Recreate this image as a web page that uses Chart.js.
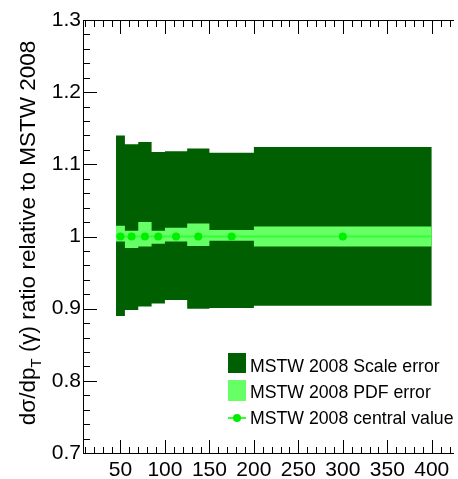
<!DOCTYPE html>
<html>
<head>
<meta charset="utf-8">
<script src="https://cdn.jsdelivr.net/npm/chart.js@4.4.1/dist/chart.umd.min.js"></script>
<style>
  html, body { margin: 0; padding: 0; background: #ffffff; overflow: hidden; }
  #wrap { width: 458px; height: 479px; position: relative; }
</style>
</head>
<body>
<div id="wrap"><canvas id="c" width="458" height="479"></canvas></div>
<script>
// pT bin edges (GeV) and per-bin ratios to the MSTW 2008 central prediction
const binEdges     = [45, 55, 70, 85, 100, 125, 150, 200, 400];
const centralValue = [1, 1, 1, 1, 1, 1, 1, 1];
const scaleErrUp   = [1.140, 1.128, 1.131, 1.117, 1.118, 1.122, 1.116, 1.124];
const scaleErrDown = [0.890, 0.898, 0.903, 0.907, 0.912, 0.900, 0.901, 0.904];
const pdfErrUp     = [1.015, 1.008, 1.020, 1.008, 1.012, 1.018, 1.009, 1.014];
const pdfErrDown   = [0.993, 0.984, 0.986, 0.990, 0.993, 0.987, 0.994, 0.986];

const xTickValues = [50, 100, 150, 200, 250, 300, 350, 400];
const xTickLabels = ['50', '100', '150', '200', '250', '300', '350', '400'];
const yTickValues = [0.7, 0.8, 0.9, 1.0, 1.1, 1.2, 1.3];
const yTickLabels = ['0.7', '0.8', '0.9', '1', '1.1', '1.2', '1.3'];

const seriesLabels = {
  scale: 'MSTW 2008 Scale error',
  pdf: 'MSTW 2008 PDF error',
  central: 'MSTW 2008 central value'
};

const FONT = "'Liberation Sans', Arial, Helvetica, sans-serif";
const DARK = '#005f00';
const LIGHT = '#66ff66';
const CENTRAL_LINE = '#33ff33';
const CENTRAL_DOT = '#00ee00';

// histogram-style step points: value i holds from edge i to edge i+1
function stepPoints(values) {
  return binEdges.map((e, i) => ({ x: e, y: values[Math.min(i, values.length - 1)] }));
}
function centerPoints(values) {
  return values.map((v, i) => ({ x: (binEdges[i] + binEdges[i + 1]) / 2, y: v }));
}

function bandStyle(color, fill) {
  return {
    stepped: true,
    fill: fill,
    backgroundColor: color,
    borderColor: 'rgba(0,0,0,0)',
    borderWidth: 0,
    pointRadius: 0,
    pointHoverRadius: 0
  };
}

// frame, inward tick marks, rotated axis title and the legend box
const decorations = {
  id: 'decorations',
  afterDraw(chart) {
    const ctx = chart.ctx;
    const a = chart.chartArea;
    const xs = chart.scales.x, ys = chart.scales.y;
    ctx.save();
    ctx.strokeStyle = '#000';
    ctx.lineWidth = 1;
    ctx.beginPath();
    ctx.moveTo(a.left - 0.5, a.top + 0.5); ctx.lineTo(a.right, a.top + 0.5);
    ctx.moveTo(a.left - 0.5, a.top); ctx.lineTo(a.left - 0.5, a.bottom + 1);
    ctx.moveTo(a.left - 0.5, a.bottom + 0.5); ctx.lineTo(a.right, a.bottom + 0.5);
    // y ticks: major every 0.1, minor every 0.02
    for (let k = 0; k <= 30; k++) {
      const v = 0.7 + k * 0.02;
      const py = Math.round(ys.getPixelForValue(v)) + 0.5;
      const len = (k % 5 === 0) ? 13 : 6;
      ctx.moveTo(a.left, py); ctx.lineTo(a.left + len, py);
    }
    // x ticks: major every 50, minor every 10, bottom and top
    for (let v = 10; v <= xs.max; v += 10) {
      if (v < xs.min) continue;
      const px = Math.round(xs.getPixelForValue(v)) + 0.5;
      const len = (v % 50 === 0) ? 13 : 6;
      ctx.moveTo(px, a.bottom); ctx.lineTo(px, a.bottom - len);
      ctx.moveTo(px, a.top + 1); ctx.lineTo(px, a.top + 1 + len);
    }
    ctx.stroke();

    // y-axis title with subscript
    ctx.fillStyle = '#000';
    ctx.textBaseline = 'alphabetic';
    ctx.textAlign = 'left';
    const big = '22.5px ' + FONT, small = '15px ' + FONT;
    const p1 = 'd\u03c3/dp', p2 = 'T', p3 = ' (\u03b3) ratio relative to MSTW 2008';
    ctx.font = big; const w1 = ctx.measureText(p1).width, w3 = ctx.measureText(p3).width;
    ctx.font = small; const w2 = ctx.measureText(p2).width;
    const total = w1 + w2 + w3;
    ctx.translate(35, 233);
    ctx.rotate(-Math.PI / 2);
    let x0 = -total / 2;
    ctx.font = big; ctx.fillText(p1, x0, 0); x0 += w1;
    ctx.font = small; ctx.fillText(p2, x0, 6); x0 += w2;
    ctx.font = big; ctx.fillText(p3, x0, 0);
    ctx.restore();

    // legend
    ctx.save();
    const lx = 228, bw = 18;
    ctx.fillStyle = DARK; ctx.fillRect(lx, 353, bw, 20);
    ctx.fillStyle = LIGHT; ctx.fillRect(lx, 380, bw, 21);
    ctx.strokeStyle = CENTRAL_LINE; ctx.lineWidth = 2;
    ctx.beginPath(); ctx.moveTo(lx, 418); ctx.lineTo(lx + bw, 418); ctx.stroke();
    ctx.fillStyle = CENTRAL_DOT;
    ctx.beginPath(); ctx.arc(lx + bw / 2, 418, 4, 0, Math.PI * 2); ctx.fill();
    ctx.fillStyle = '#000';
    ctx.font = '17.7px ' + FONT;
    ctx.textBaseline = 'alphabetic';
    ctx.fillText(seriesLabels.scale, 250, 372);
    ctx.fillText(seriesLabels.pdf, 250, 397.5);
    ctx.fillText(seriesLabels.central, 250, 424);
    ctx.restore();
  }
};

new Chart(document.getElementById('c'), {
  type: 'line',
  data: {
    datasets: [
      { label: seriesLabels.central + ' points', data: centerPoints(centralValue),
        showLine: false, pointRadius: 4, pointHoverRadius: 4,
        pointBackgroundColor: CENTRAL_DOT, pointBorderColor: CENTRAL_DOT, pointBorderWidth: 0 },
      { label: seriesLabels.central, data: stepPoints(centralValue),
        stepped: true, fill: false, borderColor: CENTRAL_LINE, borderWidth: 2,
        pointRadius: 0, pointHoverRadius: 0 },
      Object.assign({ label: seriesLabels.pdf, data: stepPoints(pdfErrUp) }, bandStyle(LIGHT, '+1')),
      Object.assign({ label: seriesLabels.pdf + ' low', data: stepPoints(pdfErrDown) }, bandStyle(LIGHT, false)),
      Object.assign({ label: seriesLabels.scale, data: stepPoints(scaleErrUp) }, bandStyle(DARK, '+1')),
      Object.assign({ label: seriesLabels.scale + ' low', data: stepPoints(scaleErrDown) }, bandStyle(DARK, false))
    ]
  },
  options: {
    responsive: false,
    animation: false,
    devicePixelRatio: 1,
    layout: { padding: { top: 20, right: 0, bottom: 0, left: 0 } },
    plugins: { legend: { display: false }, tooltip: { enabled: false } },
    scales: {
      x: {
        type: 'linear', min: 9, max: 425,
        afterBuildTicks: s => { s.ticks = xTickValues.map(v => ({ value: v })); },
        afterFit: s => { s.height = 26; },
        grid: { display: false, drawTicks: false },
        border: { display: false },
        ticks: {
          autoSkip: false, maxRotation: 0, padding: 5, color: '#000',
          font: { family: FONT, size: 21 },
          callback: v => xTickLabels[xTickValues.indexOf(v)]
        }
      },
      y: {
        type: 'linear', min: 0.7, max: 1.3,
        afterBuildTicks: s => { s.ticks = yTickValues.map(v => ({ value: v })); },
        afterFit: s => { s.width = 84; },
        grid: { display: false, drawTicks: false },
        border: { display: false },
        ticks: {
          padding: 3, color: '#000',
          font: { family: FONT, size: 21 },
          callback: v => yTickLabels[yTickValues.indexOf(v)]
        }
      }
    }
  },
  plugins: [decorations]
});
</script>
</body>
</html>
